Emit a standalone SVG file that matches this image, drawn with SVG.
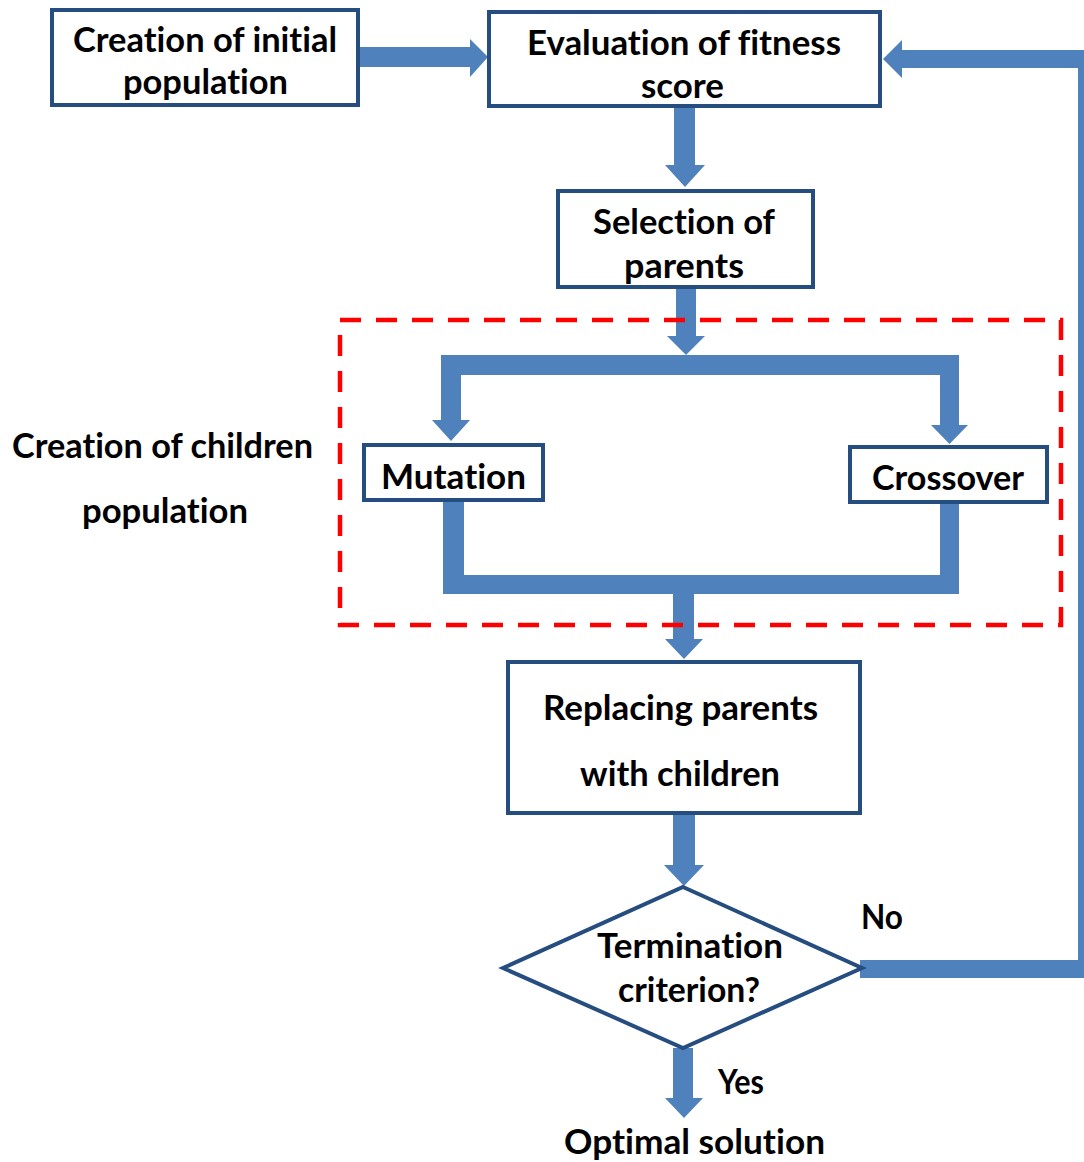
<svg xmlns="http://www.w3.org/2000/svg" width="1084" height="1162" viewBox="0 0 1084 1162">
  <style>
    .box { fill: #ffffff; stroke: #264D80; stroke-width: 4; }
    .conn { fill: #4F81BD; stroke: none; }
    .t { font-family: Lato, "Open Sans", "Liberation Sans", sans-serif; font-weight: bold; font-size: 35px; fill: #000000; font-variant-ligatures: none; font-feature-settings: "liga" 0, "clig" 0; }
    .region { fill: none; stroke: #FF0000; stroke-width: 4.5; stroke-dasharray: 21 15; }
  </style>
  <rect x="0" y="0" width="1084" height="1162" fill="#ffffff"/>

  <g id="connectors">
    <!-- initial population -> evaluation -->
    <polygon class="conn" points="359,47 470,47 470,39 488,57 470,77 470,67 359,67"/>
    <!-- evaluation -> selection -->
    <polygon class="conn" points="674,106 695,106 695,165 705,165 685,187 665,165 674,165"/>
    <!-- selection -> split -->
    <polygon class="conn" points="676,287 696,287 696,336 705,336 686,355 667,336 676,336"/>
    <!-- split to mutation / crossover -->
    <polygon class="conn" points="441,355 959,355 959,425 968,425 949.5,444 931,425 940,425 940,375 461,375 461,420 470,420 451,441 432,420 441,420"/>
    <!-- merge from mutation / crossover -->
    <polygon class="conn" points="443,500 464,500 464,575 940,575 940,502 959,502 959,594 443,594"/>
    <!-- merge -> replacing -->
    <polygon class="conn" points="673,594 694,594 694,639 703,639 684,659 665,639 673,639"/>
    <!-- replacing -> termination -->
    <polygon class="conn" points="673,813 695,813 695,865 704,865 684,886 664,865 673,865"/>
    <!-- termination (No) -> evaluation -->
    <polygon class="conn" points="860,960 1078,960 1078,68 902,68 902,78 883,59 902,40 902,50 1096,50 1096,978 860,978"/>
    <!-- termination (Yes) -> optimal solution -->
    <polygon class="conn" points="673,1048 693,1048 693,1098 703,1098 684,1118 665,1098 673,1098"/>
  </g>

  <g id="region-children">
    <rect class="region" x="340" y="320" width="721" height="305"/>
  </g>

  <g id="node-initial">
    <rect class="box" x="52" y="10" width="306" height="95"/>
    <text class="t" x="73" y="52" textLength="264" lengthAdjust="spacingAndGlyphs">Creation of initial</text>
    <text class="t" x="123" y="94" textLength="165" lengthAdjust="spacingAndGlyphs">population</text>
  </g>

  <g id="node-evaluation">
    <rect class="box" x="489" y="12" width="391" height="94"/>
    <text class="t" x="527" y="55" textLength="314" lengthAdjust="spacingAndGlyphs">Evaluation of fitness</text>
    <text class="t" x="641" y="98" textLength="83" lengthAdjust="spacingAndGlyphs">score</text>
  </g>

  <g id="node-selection">
    <rect class="box" x="558" y="191" width="255" height="96"/>
    <text class="t" x="593" y="234" textLength="182" lengthAdjust="spacingAndGlyphs">Selection of</text>
    <text class="t" x="624" y="278" textLength="120" lengthAdjust="spacingAndGlyphs">parents</text>
  </g>

  <g id="label-children">
    <text class="t" x="12" y="458" textLength="301" lengthAdjust="spacingAndGlyphs">Creation of children</text>
    <text class="t" x="82" y="523" textLength="166" lengthAdjust="spacingAndGlyphs">population</text>
  </g>

  <g id="node-mutation">
    <rect class="box" x="364" y="445" width="179" height="55"/>
    <text class="t" x="381" y="489" textLength="145" lengthAdjust="spacingAndGlyphs">Mutation</text>
  </g>

  <g id="node-crossover">
    <rect class="box" x="850" y="447" width="197" height="55"/>
    <text class="t" x="872" y="490" textLength="152" lengthAdjust="spacingAndGlyphs">Crossover</text>
  </g>

  <g id="node-replacing">
    <rect class="box" x="508" y="662" width="352" height="151"/>
    <text class="t" x="543" y="720" textLength="275" lengthAdjust="spacingAndGlyphs">Replacing parents</text>
    <text class="t" x="580" y="786" textLength="200" lengthAdjust="spacingAndGlyphs">with children</text>
  </g>

  <g id="node-termination">
    <polygon class="box" points="683,887 862,968 683,1048 503,968"/>
    <text class="t" x="597" y="958" textLength="186" lengthAdjust="spacingAndGlyphs">Termination</text>
    <text class="t" x="618" y="1002" textLength="142" lengthAdjust="spacingAndGlyphs">criterion?</text>
  </g>

  <g id="labels">
    <text class="t" x="861" y="929" textLength="42" lengthAdjust="spacingAndGlyphs">No</text>
    <text class="t" x="718" y="1094" textLength="46" lengthAdjust="spacingAndGlyphs">Yes</text>
  </g>

  <g id="node-optimal">
    <text class="t" x="564" y="1154" textLength="261" lengthAdjust="spacingAndGlyphs">Optimal solution</text>
  </g>
</svg>
